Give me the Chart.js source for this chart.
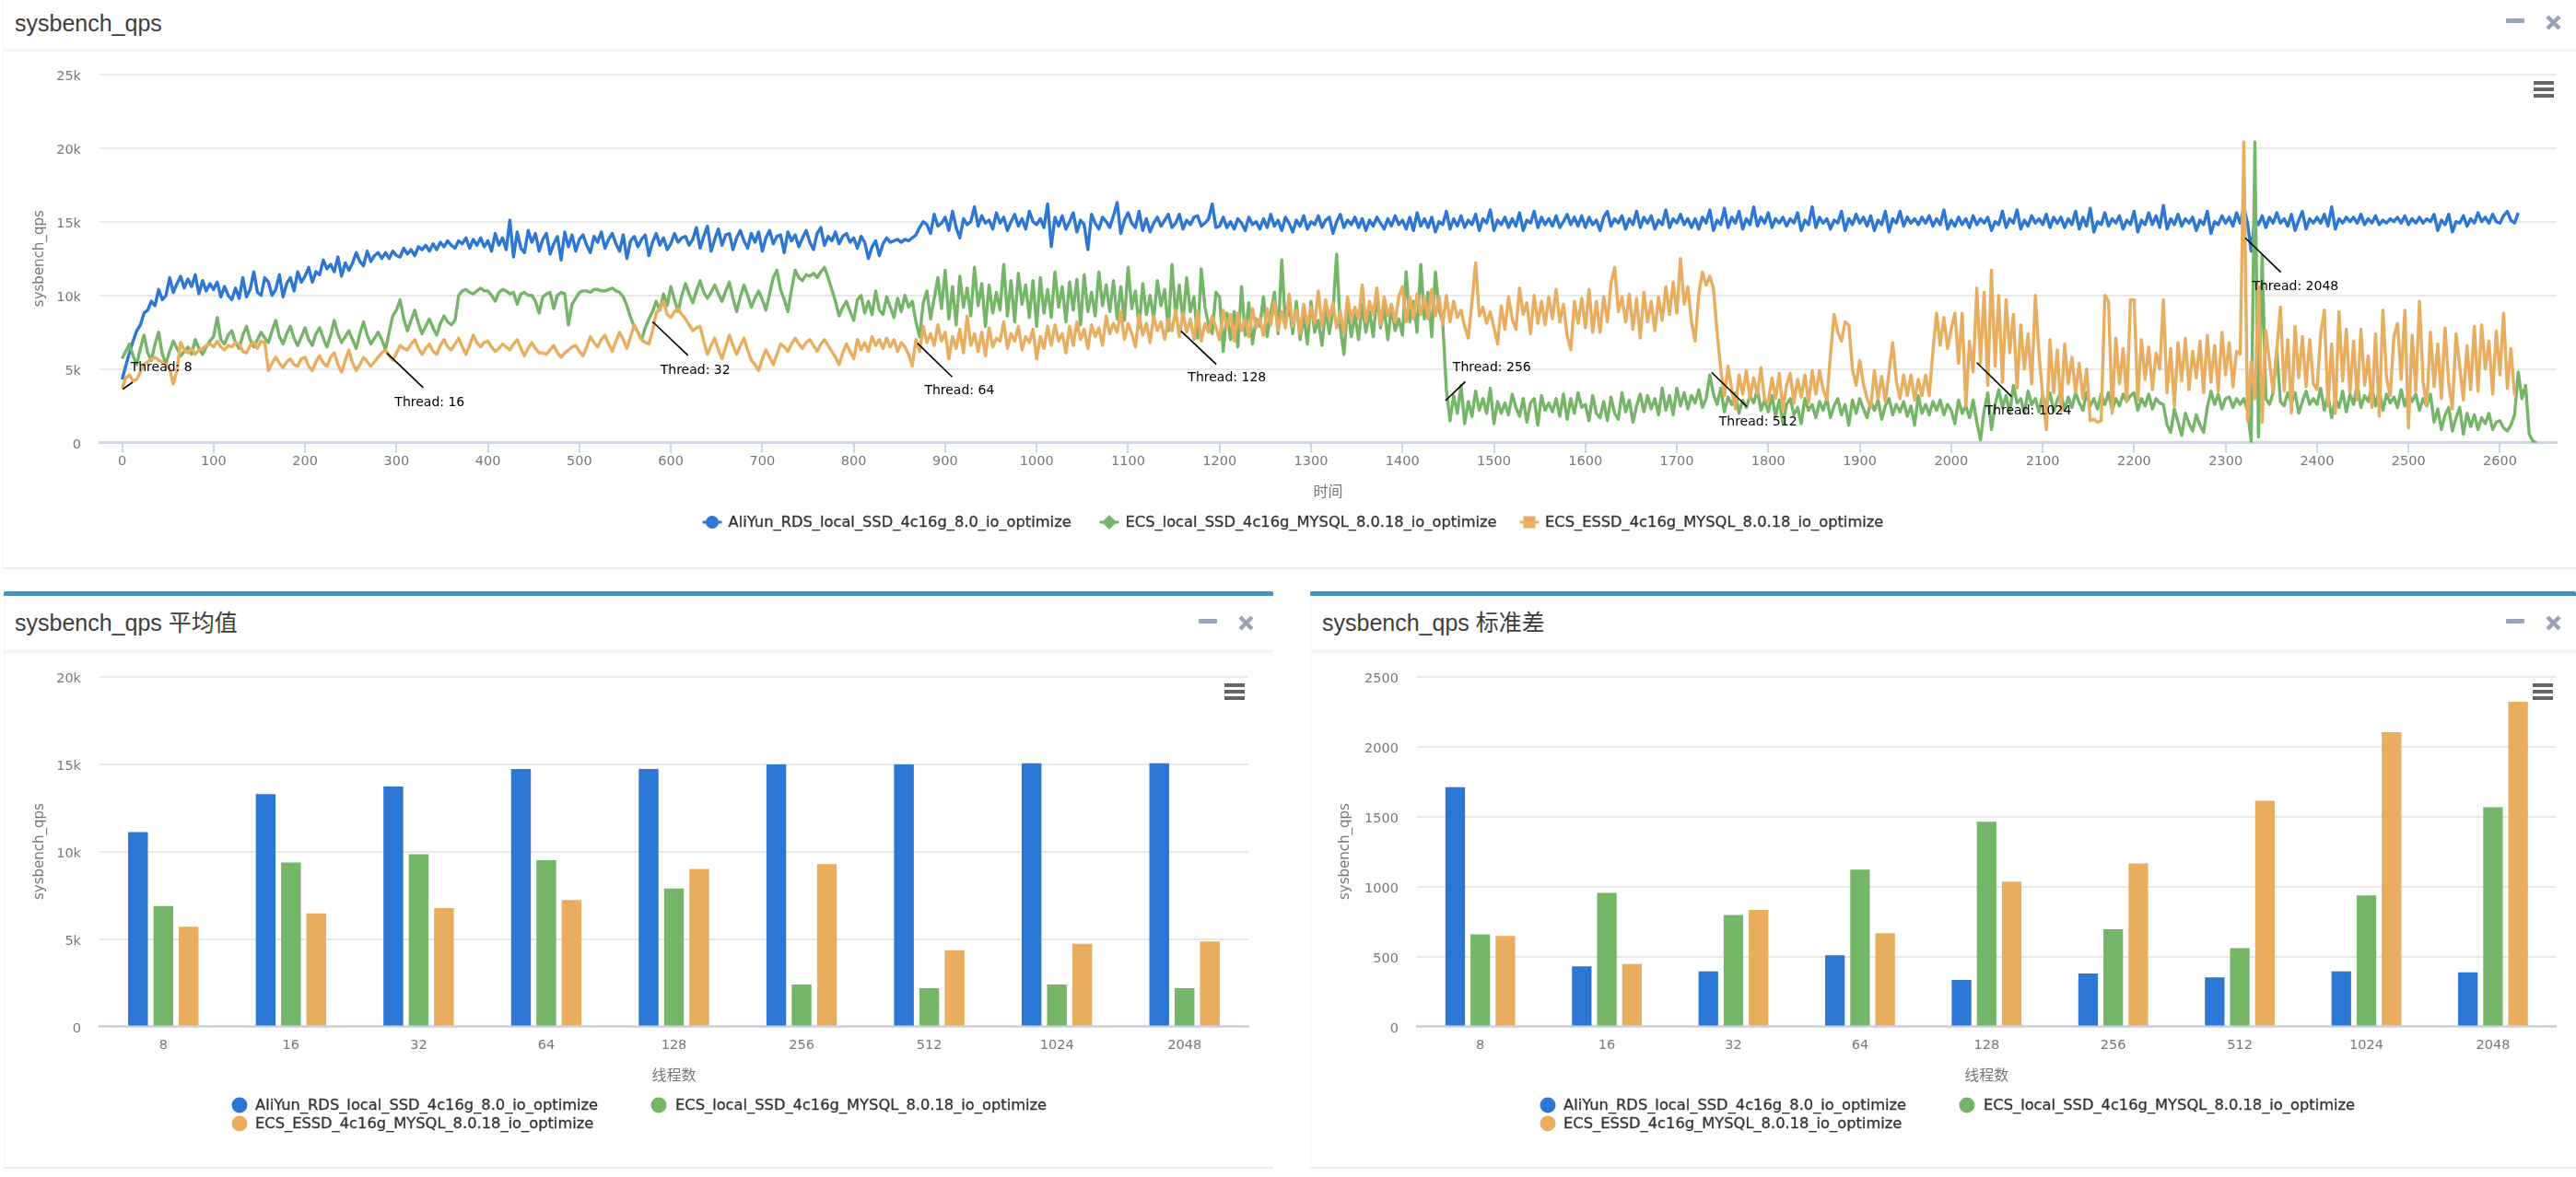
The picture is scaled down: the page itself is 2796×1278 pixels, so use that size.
<!DOCTYPE html>
<html><head><meta charset="utf-8">
<script src="https://cdn.jsdelivr.net/npm/chart.js@4"></script>
<style>
html,body{margin:0;padding:0;background:#fff;width:2796px;height:1278px;overflow:hidden}
body{position:relative;font-family:"DejaVu Sans","Noto Sans CJK SC",sans-serif}
.panel{position:absolute;background:#fff;box-sizing:border-box;border-left:1px solid #f2f2f2;border-bottom:2px solid #ececec}
.bar{position:absolute;background:#4b8fbe;height:5px;border-radius:2px 2px 0 0}
.head{position:absolute;height:3px;background:#f4f4f4}
.title{position:absolute;font:25px "Liberation Sans","Noto Sans CJK SC",sans-serif;color:#3d3d3d;line-height:30px;white-space:nowrap}
canvas{position:absolute}
.legend{position:absolute;font:16.3px "DejaVu Sans",sans-serif;color:#333;white-space:nowrap;-webkit-text-stroke:.3px #333;line-height:20px}
.legend span{position:absolute;top:0}
.legend svg{position:absolute}
.ham{position:absolute;width:22px;height:18px;background:linear-gradient(#666 0 4px,transparent 4px 7px,#666 7px 11px,transparent 11px 14px,#666 14px 18px)}
.min{position:absolute;width:20px;height:5px;background:#9aa3b8;border-radius:1px}
.close{position:absolute;width:17px;height:17px}
</style></head><body>
<div class="panel" style="left:3px;top:0;width:2793px;height:618px"></div>
<div class="head" style="left:3px;top:53px;width:2793px"></div>
<div class="title" id="t1" style="left:16px;top:10px"></div>
<canvas id="c1" width="2796" height="550" style="left:0;top:60px;width:2796px;height:550px"></canvas>

<div class="panel" style="left:4px;top:642px;width:1378px;height:627px"></div>
<div class="bar" style="left:4px;top:642px;width:1378px"></div>
<div class="head" style="left:4px;top:706px;width:1378px"></div>
<div class="title" id="t2" style="left:16px;top:661px"></div>
<canvas id="c2" width="1400" height="560" style="left:0;top:710px;width:1400px;height:560px"></canvas>

<div class="panel" style="left:1422px;top:642px;width:1374px;height:627px"></div>
<div class="bar" style="left:1422px;top:642px;width:1374px"></div>
<div class="head" style="left:1422px;top:706px;width:1374px"></div>
<div class="title" id="t3" style="left:1435px;top:661px"></div>
<canvas id="c3" width="1396" height="560" style="left:1400px;top:710px;width:1396px;height:560px"></canvas>

<div class="ham" style="left:2750px;top:88px"></div>
<div class="ham" style="left:1329px;top:742px"></div>
<div class="ham" style="left:2749px;top:742px"></div>
<div class="min" style="left:2720px;top:20px"></div>
<div class="min" style="left:1301px;top:672px"></div>
<div class="min" style="left:2720px;top:672px"></div>
<svg class="close" style="left:2763px;top:16px" viewBox="0 0 17 17"><path d="M2 2L15 15M15 2L2 15" stroke="#9aa3b8" stroke-width="4.5"/></svg>
<svg class="close" style="left:1344px;top:668px" viewBox="0 0 17 17"><path d="M2 2L15 15M15 2L2 15" stroke="#9aa3b8" stroke-width="4.5"/></svg>
<svg class="close" style="left:2763px;top:668px" viewBox="0 0 17 17"><path d="M2 2L15 15M15 2L2 15" stroke="#9aa3b8" stroke-width="4.5"/></svg>
<div id="legends"></div>

<script>
const seriesNames = ["AliYun_RDS_local_SSD_4c16g_8.0_io_optimize","ECS_local_SSD_4c16g_MYSQL_8.0.18_io_optimize","ECS_ESSD_4c16g_MYSQL_8.0.18_io_optimize"];
const threadCategories = ["8","16","32","64","128","256","512","1024","2048"];
const sampleSeconds = 4;

// QPS in thousands, one row per 200 seconds
const rdsQps = [
4.3,5.2,6.1,6.9,7.6,8.0,8.8,9.0,9.6,9.3,10.4,9.7,10.0,11.2,10.2,10.8,11.3,10.5,11.1,10.6,11.4,10.1,11.0,10.3,10.8,10.4,10.9,9.9,10.6,10.0,9.7,10.5,9.8,11.2,9.9,10.4,11.6,10.2,10.0,11.2,10.9,10.0,10.4,11.4,9.9,10.8,11.2,10.3,11.6,10.9,
11.3,11.9,10.9,11.6,11.4,12.4,11.8,12.1,11.6,12.6,11.3,12.2,11.7,12.2,12.9,12.3,12.0,13.0,12.3,12.7,12.9,12.5,12.9,12.5,13.0,12.7,12.6,13.2,12.8,13.1,12.7,13.3,13.1,13.4,13.0,13.5,13.1,13.6,13.3,13.7,13.4,13.2,13.7,13.5,13.9,13.2,13.8,13.4,13.9,13.3,
13.7,13.0,14.2,13.4,13.9,13.1,15.1,12.6,14.3,13.2,12.9,14.4,13.6,14.2,13.0,13.8,14.2,12.8,13.5,14.0,12.4,14.3,13.3,14.1,13.0,13.8,14.1,13.4,12.9,14.0,13.6,14.3,13.2,13.8,14.2,13.5,13.0,14.1,12.5,13.7,14.0,13.3,13.8,14.1,12.7,13.6,14.2,13.4,13.9,13.1,
13.5,14.2,13.6,13.9,14.0,13.4,13.8,14.6,13.2,14.0,14.7,13.0,13.8,14.5,13.4,14.1,14.2,13.1,13.9,14.4,13.7,13.2,14.2,13.6,14.3,13.0,13.9,14.4,13.5,14.0,14.1,12.9,14.3,13.7,14.1,13.3,13.9,14.4,13.6,13.1,14.2,14.6,13.4,14.0,13.7,14.3,13.5,14.0,14.2,13.6,
13.9,13.2,14.0,13.6,12.5,13.3,13.7,12.7,13.5,13.9,13.6,13.7,13.8,13.6,13.8,13.7,13.9,14.1,14.6,15.0,14.8,14.2,15.5,14.7,14.9,15.3,14.4,15.7,14.6,13.9,15.2,14.8,15.0,16.0,14.7,15.4,14.9,15.1,14.5,15.6,14.9,15.3,14.4,15.0,15.5,14.7,15.2,14.5,15.7,15.0,
14.8,15.2,14.6,16.2,13.3,15.3,14.7,15.4,14.5,15.0,15.6,14.3,15.1,14.8,13.1,15.5,14.9,14.5,15.3,15.0,14.6,15.4,16.3,14.2,15.1,15.6,14.9,14.6,15.7,14.4,15.2,14.3,14.9,15.3,14.7,15.1,15.5,14.6,14.9,15.5,14.5,15.1,14.8,15.3,15.4,14.7,14.9,15.2,16.2,14.6,
14.7,15.3,14.6,15.0,14.5,15.2,14.9,14.4,15.3,14.8,15.0,14.5,15.2,14.6,15.5,14.7,15.1,14.4,15.3,14.9,14.3,15.1,14.7,15.4,14.5,15.0,14.8,15.4,14.6,15.1,15.3,14.2,15.0,15.5,14.6,15.1,14.8,15.3,14.6,15.2,14.4,15.1,14.7,15.3,14.9,14.5,15.2,14.7,15.4,14.8,
15.1,14.5,15.3,14.4,15.6,14.7,15.2,14.6,15.3,14.3,15.0,14.8,15.7,14.5,15.2,14.7,15.4,14.6,15.1,14.8,15.5,14.4,15.2,14.9,15.8,14.4,15.1,14.8,15.3,14.6,15.2,14.7,15.6,14.4,15.1,14.9,15.7,14.6,15.3,14.8,15.2,14.7,15.4,14.6,15.0,15.5,14.8,15.3,14.7,15.4,
14.6,15.3,14.8,15.1,14.4,15.3,15.7,14.7,15.2,14.9,15.4,14.5,15.2,14.8,15.7,14.6,15.3,14.9,15.4,14.5,15.1,14.8,15.8,14.6,15.2,14.9,15.5,14.8,15.2,14.6,15.2,14.5,15.3,14.9,15.8,14.4,15.1,14.8,15.9,14.6,15.3,14.9,15.7,14.5,15.2,14.8,16.0,14.7,15.3,14.9,
15.6,14.6,15.2,14.9,15.3,14.7,15.2,14.9,15.6,14.4,15.1,14.8,16.0,14.6,15.3,14.9,15.2,14.5,15.1,14.9,15.7,14.4,15.2,14.8,15.5,14.9,15.3,14.7,15.4,14.4,15.1,14.8,15.7,14.3,15.2,14.9,15.7,14.7,15.3,14.9,15.2,14.8,15.3,14.9,15.4,14.7,15.2,14.8,15.8,14.5,
15.1,14.7,15.3,14.8,15.2,14.6,15.4,14.8,15.2,14.9,15.3,14.4,15.0,14.8,15.7,14.6,15.2,14.9,15.8,14.5,15.1,14.7,15.4,14.9,15.2,14.8,15.5,14.6,15.3,14.9,15.3,14.6,15.2,14.8,15.7,14.5,15.3,14.7,15.9,14.3,15.0,14.8,15.6,14.7,15.2,14.9,15.4,14.5,15.1,14.8,
15.7,14.3,15.1,14.8,15.6,14.8,15.4,14.6,16.1,14.5,15.2,14.8,15.5,14.7,15.2,14.9,15.3,14.4,15.1,14.8,15.7,14.2,15.0,14.8,15.4,14.9,15.3,14.7,15.6,14.9,16.0,14.9,13.0,15.2,14.8,15.4,14.6,15.3,14.9,15.6,14.9,15.2,14.7,15.5,14.4,15.1,15.7,14.5,15.2,14.9,
15.3,14.9,15.5,14.7,16.0,14.5,15.2,14.9,15.3,15.0,15.3,14.9,15.5,14.8,15.2,14.9,15.4,14.8,15.1,14.9,15.2,15.0,15.3,14.9,15.4,14.8,15.2,14.9,15.3,14.9,15.2,15.0,15.5,14.4,15.1,14.8,15.5,14.3,15.0,14.9,15.4,14.7,15.2,14.9,15.6,15.0,15.3,14.9,15.5,15.0,
14.9,15.4,15.7,15.1,14.9,15.6];
const localSsdQps = [
5.7,6.2,6.7,5.9,5.3,6.4,7.3,6.1,5.6,6.7,7.5,6.0,5.4,6.2,6.9,6.4,5.9,6.2,6.5,6.0,7.0,6.4,6.0,6.5,6.9,7.2,8.5,7.0,6.7,7.3,7.6,6.8,6.4,7.3,7.9,7.0,6.5,7.0,7.5,7.1,6.8,7.6,8.3,7.2,6.7,7.4,7.9,7.1,6.6,7.2,
7.8,7.0,6.6,7.4,7.8,7.1,6.5,7.3,8.3,7.4,6.8,7.2,7.6,7.0,6.4,7.4,8.2,7.3,6.7,7.1,7.5,7.0,6.3,7.5,8.6,9.0,9.7,8.4,7.6,8.3,9.0,8.1,7.4,7.9,8.4,7.8,7.3,8.1,8.6,8.2,8.0,8.3,10.0,10.3,10.4,10.2,10.1,10.3,10.5,10.3,
10.3,10.0,9.6,10.2,10.4,10.3,10.1,10.2,9.4,10.1,10.2,10.0,10.0,9.6,8.8,9.9,10.1,10.2,9.1,10.0,10.2,10.1,8.0,9.4,9.8,10.2,10.3,10.3,10.2,10.4,10.4,10.3,10.3,10.4,10.5,10.3,10.2,9.9,9.3,8.5,7.9,7.5,7.0,7.8,8.4,8.9,9.6,9.0,10.1,9.3,
10.6,9.7,8.9,10.0,10.8,10.1,9.5,10.3,11.0,10.2,9.8,10.2,10.7,10.1,9.6,10.3,10.9,9.8,8.9,9.9,10.7,10.0,9.2,9.8,10.3,9.7,9.0,10.1,11.2,11.7,10.4,9.7,8.9,10.4,11.7,11.2,11.0,11.4,11.3,11.5,11.2,11.6,11.9,11.2,10.4,9.6,8.6,9.2,9.6,8.9,
8.3,9.7,10.0,8.8,9.6,8.7,10.3,9.0,8.7,9.9,9.2,8.5,9.8,8.9,10.0,9.2,9.6,8.2,7.2,9.5,10.3,8.4,9.8,11.2,9.1,11.7,8.4,10.6,8.0,11.3,9.2,10.5,8.6,11.9,9.3,10.8,7.9,10.7,8.8,10.2,9.0,12.1,8.6,11.0,8.2,11.5,9.4,10.7,8.5,11.0,
7.9,11.2,8.8,10.4,8.5,11.6,9.2,10.6,8.2,10.9,9.0,11.1,8.0,11.4,8.9,10.2,8.6,11.6,9.3,10.7,8.9,11.0,8.4,10.6,8.3,11.9,9.1,10.3,7.8,10.8,8.7,10.0,8.4,11.0,9.3,10.4,7.6,12.1,8.6,10.7,8.2,11.2,8.9,9.9,7.1,11.8,9.2,8.0,7.4,10.2,
9.9,6.2,8.8,7.0,8.9,6.5,10.6,7.3,9.5,6.7,8.4,7.9,9.9,7.2,8.8,10.2,7.4,12.4,8.1,9.3,7.4,9.6,7.0,8.6,6.7,9.6,7.5,8.3,6.6,9.1,7.4,8.9,12.8,7.8,6.0,9.3,7.2,8.7,7.0,9.4,7.5,8.9,7.2,10.0,7.8,9.1,7.0,9.2,7.6,8.4,
7.3,11.6,8.2,9.6,7.5,12.1,8.4,10.2,7.2,11.6,9.0,8.2,3.6,1.5,3.2,2.0,3.9,1.3,2.8,1.8,3.5,2.2,3.0,2.0,3.7,1.3,2.8,2.0,2.7,1.9,3.3,2.4,1.8,3.0,1.4,2.7,3.0,1.2,3.2,2.2,2.7,2.1,3.0,1.8,3.3,1.6,3.0,2.0,3.4,2.4,
2.6,1.5,3.2,2.0,1.7,2.8,1.5,3.1,2.0,1.6,3.4,2.1,2.9,1.4,2.5,3.3,2.1,3.2,2.3,3.0,1.9,3.7,2.2,3.2,1.9,3.7,2.5,3.4,2.3,3.2,2.7,3.6,2.4,3.0,4.6,3.3,2.6,3.7,2.1,3.1,2.6,3.4,2.0,2.9,2.4,3.2,2.7,3.6,2.2,2.9,
2.1,3.2,1.8,2.9,1.3,2.6,3.0,1.9,2.4,1.3,3.0,2.2,2.6,1.7,2.8,2.2,3.0,1.7,2.5,3.0,1.9,2.6,1.2,2.9,2.0,3.0,2.3,1.7,2.8,2.2,2.9,1.6,2.5,3.0,1.9,2.6,2.1,2.8,1.8,2.5,1.2,3.2,2.0,2.6,1.9,2.8,2.2,2.9,1.9,2.6,
2.2,1.3,2.9,2.0,2.5,1.7,2.9,1.4,0.2,2.2,3.4,0.9,2.6,3.6,2.4,3.2,2.0,3.9,2.7,3.0,2.0,3.5,2.6,3.0,2.1,3.2,2.5,3.4,2.1,2.9,3.4,2.2,3.1,2.4,3.4,2.7,2.2,3.4,2.5,3.0,2.3,3.3,2.6,3.4,2.2,3.0,2.5,3.3,2.8,3.2,
3.4,2.2,3.0,2.5,3.3,2.3,3.0,2.7,2.6,1.2,0.7,2.3,1.4,0.5,2.0,1.3,0.8,1.9,1.2,0.7,2.4,3.5,2.6,3.3,2.3,3.0,3.1,2.4,3.0,2.6,3.0,2.2,0.1,20.4,0.4,12.7,3.0,2.6,3.4,6.3,2.8,2.5,3.4,2.7,3.4,2.0,2.8,3.5,2.6,3.0,
2.6,3.7,2.2,3.2,1.7,3.0,2.4,3.5,2.1,3.3,2.6,4.0,2.4,3.2,2.8,3.8,2.5,3.6,2.2,3.3,2.7,3.1,2.4,3.6,2.5,3.4,2.8,3.3,2.2,3.0,2.5,3.3,1.4,2.3,0.9,1.9,2.4,0.8,1.7,2.4,0.6,2.0,1.1,1.9,0.9,1.7,1.3,2.0,0.9,1.4,
1.5,1.0,0.8,1.2,1.9,4.8,3.0,3.9,0.6,0.1,0];
const essdQps = [
3.7,4.4,4.6,4.2,4.3,4.8,5.3,5.5,5.7,5.8,5.6,5.5,5.3,5.0,4.0,4.9,6.8,6.3,6.1,6.4,6.0,6.3,6.4,6.6,6.7,6.5,6.9,6.5,6.3,6.6,6.5,6.8,6.7,6.2,6.1,6.6,6.8,6.4,6.9,6.8,4.9,5.4,5.8,5.4,5.1,5.5,5.7,5.3,5.2,5.7,
5.8,5.2,4.9,5.5,5.9,5.4,5.2,5.8,6.1,5.3,4.8,5.6,6.3,5.4,4.9,5.3,5.8,5.5,5.2,5.5,5.8,6.1,6.3,5.9,5.6,6.1,6.6,6.4,6.3,6.7,7.0,6.4,6.0,6.4,6.7,6.2,6.0,6.6,7.0,6.5,6.3,6.7,7.1,6.5,6.0,6.6,7.3,6.8,6.5,6.8,
6.9,6.5,6.2,6.4,6.7,6.5,6.3,6.7,7.0,6.4,5.9,6.4,6.8,6.4,6.1,6.1,6.0,6.3,6.6,6.1,5.8,6.1,6.3,6.5,6.6,6.2,5.9,6.5,7.2,6.8,6.5,7.0,7.3,6.7,6.2,6.9,7.5,7.0,6.4,7.2,8.0,7.5,7.0,6.8,6.7,7.6,8.8,9.1,9.6,8.7,
8.5,8.9,9.1,8.7,8.4,8.0,7.6,7.8,7.9,6.9,6.0,6.6,7.1,6.3,5.7,6.5,7.3,6.6,6.0,6.6,7.1,6.3,5.6,5.3,4.9,5.7,6.3,5.8,5.3,6.0,6.7,6.5,6.2,6.7,7.1,6.7,6.4,6.8,7.0,6.6,6.2,6.7,7.0,6.6,6.2,5.8,5.3,6.1,6.7,6.2,
5.7,7.0,6.3,6.8,6.2,7.2,6.6,7.0,6.4,7.1,6.5,7.0,6.2,6.8,6.5,6.0,5.2,7.0,6.2,7.9,6.8,7.4,6.6,8.0,6.9,7.5,5.7,7.2,6.4,7.7,6.1,8.6,6.6,7.4,6.2,7.5,5.9,7.8,6.5,7.1,6.9,8.2,6.4,7.4,6.9,7.9,6.3,7.2,6.8,7.7,
5.7,7.2,6.4,7.9,6.6,8.0,6.9,7.4,6.1,7.9,6.6,8.2,7.0,7.7,6.4,8.0,7.2,7.8,6.6,8.6,7.4,8.1,7.5,8.9,7.0,8.1,7.4,6.5,8.7,7.3,8.1,6.8,8.6,7.6,8.2,7.0,8.4,7.6,9.0,7.2,8.8,7.5,8.4,7.0,8.9,6.9,8.1,7.5,8.6,7.8,
7.0,9.0,7.8,8.7,6.9,8.8,7.6,8.4,7.2,9.1,7.8,8.4,7.3,9.1,8.0,9.6,7.6,8.9,7.8,10.1,7.9,9.0,7.4,9.4,8.0,9.2,8.1,10.3,7.9,9.7,8.4,9.5,7.8,8.9,7.4,9.9,8.3,9.2,8.4,10.7,8.2,9.6,8.7,10.5,8.0,9.9,8.6,9.4,8.2,9.9,
10.6,8.2,9.9,8.4,10.1,8.7,9.9,8.4,10.4,8.6,9.9,8.0,10.0,8.2,9.6,8.5,9.0,7.9,7.1,9.6,12.2,8.6,9.2,8.1,8.9,7.8,6.7,9.3,7.7,9.9,8.4,7.7,10.5,8.7,9.5,7.4,10.0,8.1,9.6,8.0,9.9,8.4,10.4,8.2,9.4,7.3,6.3,9.6,8.1,9.8,
7.8,10.4,7.5,9.6,7.5,9.9,8.2,10.8,11.9,8.9,9.9,8.2,10.1,7.7,9.8,7.1,10.2,8.2,9.6,7.6,9.9,8.3,10.6,8.7,10.9,8.8,12.5,9.4,10.6,8.2,6.9,10.1,11.6,10.7,11.3,10.5,7.5,5.0,3.2,5.2,3.6,2.3,4.6,3.3,4.9,3.0,4.4,3.3,5.1,2.9,
2.8,4.4,3.0,4.7,2.2,3.9,4.7,2.7,4.3,3.1,4.6,2.7,4.9,3.3,4.9,3.6,2.9,6.0,8.7,7.5,6.9,8.2,8.0,5.0,3.9,5.6,4.0,3.0,2.4,4.9,3.0,4.5,2.8,4.8,6.8,4.2,3.0,4.6,3.2,4.6,2.9,4.3,3.2,4.6,3.2,6.2,8.8,6.6,8.5,6.4,
7.7,8.8,5.4,8.8,2.5,6.9,4.8,10.5,5.4,10.2,3.9,11.7,5.2,10.0,4.1,9.7,6.1,8.7,3.7,8.0,5.0,7.4,4.0,10.0,6.0,3.2,0.9,7.0,3.4,6.3,2.2,6.7,4.0,5.8,3.4,5.4,3.0,5.0,1.5,1.6,1.4,1.5,10.0,9.6,2.0,7.1,4.0,6.4,2.8,9.7,
9.7,2.9,7.0,4.3,6.5,3.6,6.1,5.0,9.7,3.4,6.4,2.5,6.8,4.2,7.1,3.6,6.2,4.4,6.9,3.4,7.3,4.1,6.6,3.5,7.5,4.6,6.8,3.8,6.2,6.0,20.4,1.5,5.5,3.0,10.6,1.4,7.6,5.5,3.4,6.3,9.2,3.5,7.0,2.0,7.9,4.4,7.2,3.8,7.0,4.0,
3.6,7.4,9.0,2.5,6.7,2.0,8.9,4.2,7.7,3.4,6.9,2.9,7.7,3.9,5.9,2.4,7.4,1.8,9.0,4.4,3.2,7.2,8.1,4.3,9.0,1.0,7.3,3.5,9.6,4.1,2.5,7.5,3.8,6.7,3.0,7.8,4.0,2.3,7.4,5.2,2.9,6.6,3.6,7.9,3.5,8.0,5.0,6.9,3.3,7.6,
4.6,8.8,3.7,6.4,3.2];

const meanRds = [11.11,13.28,13.71,14.72,14.72,14.98,14.98,15.04,15.04];
const meanLocal = [6.88,9.37,9.85,9.5,7.88,2.4,2.18,2.4,2.18];
const meanEssd = [5.7,6.46,6.77,7.23,9.0,9.28,4.35,4.72,4.85];
const stdRds = [1710,430,394,509,332,378,351,394,386];
const stdLocal = [658,955,797,1121,1463,694,560,936,1567];
const stdEssd = [647,446,832,666,1034,1164,1613,2103,2320];

// Thread markers, all in data units (seconds, thousand QPS)
const threadNames = ["Thread: 8","Thread: 16","Thread: 32","Thread: 64","Thread: 128","Thread: 256","Thread: 512","Thread: 1024","Thread: 2048"];
const leaderStartT = [0.7,289.6,580,869.6,1157.8,1447,1738,2028,2321.5];
const leaderStartQ = [3.63,6.09,8.22,6.76,7.59,2.86,4.78,5.44,13.9];
const leaderEndT = [11.5,329.2,618.7,907.6,1196.4,1468.7,1776.8,2066,2360.4];
const leaderEndQ = [4.11,3.74,5.93,4.47,5.32,4.15,2.44,3.13,11.57];
const labelT = [9.2,298,588.5,877.3,1165.4,1455,1746,2037,2329];
const labelQ = [5.09,2.74,4.93,3.5,4.38,5.11,1.43,2.18,10.61];

const BLUE="#2c76d4",GREEN="#75b568",ORANGE="#e8ad5e";
const colors=[BLUE,GREEN,ORANGE];
const TICK="#777", GRID="#e8e8e8", AXIS="#ccd6eb";
const tickFont={family:'"DejaVu Sans"',size:14.5};
const titleFont={family:'"DejaVu Sans","Noto Sans CJK SC"',size:15};
const xTitleFont={family:'"Noto Sans CJK SC"',size:16};
Chart.defaults.animation=false;
Chart.defaults.devicePixelRatio=1;

document.getElementById('t1').textContent="sysbench_qps";
document.getElementById('t2').textContent="sysbench_qps 平均值";
document.getElementById('t3').textContent="sysbench_qps 标准差";

const noPad=s=>{s.paddingTop=0;s.paddingBottom=0;s.paddingLeft=0;s.paddingRight=0;};
const toPoints=a=>a.map((v,i)=>({x:i*sampleSeconds,y:v}));
const threadPlugin={id:'threads',afterDatasetsDraw(c){
  const {ctx,scales:{x,y}}=c;
  ctx.save();
  ctx.strokeStyle="#000";ctx.lineWidth=1.6;
  ctx.font='14px "DejaVu Sans"';ctx.fillStyle="#000";ctx.textAlign="left";ctx.textBaseline="middle";
  threadNames.forEach((n,i)=>{
    ctx.beginPath();
    ctx.moveTo(x.getPixelForValue(leaderStartT[i]),y.getPixelForValue(leaderStartQ[i]));
    ctx.lineTo(x.getPixelForValue(leaderEndT[i]),y.getPixelForValue(leaderEndQ[i]));
    ctx.stroke();
    ctx.fillText(n,x.getPixelForValue(labelT[i]),y.getPixelForValue(labelQ[i]));
  });
  ctx.restore();
}};

new Chart(document.getElementById('c1'),{
  type:'line',
  data:{datasets:[rdsQps,localSsdQps,essdQps].map((a,i)=>({label:seriesNames[i],data:toPoints(a),borderColor:colors[i],backgroundColor:colors[i],borderWidth:3.4,pointRadius:0,tension:0,order:3-i,borderJoinStyle:'round'}))},
  plugins:[threadPlugin],
  options:{responsive:false,
    layout:{padding:{top:20.6,right:21,left:0,bottom:0}},
    plugins:{legend:{display:false},tooltip:{enabled:false}},
    scales:{
      x:{type:'linear',min:-24.7,max:2662,
        afterFit:s=>{s.height=129.2;noPad(s)},
        border:{color:AXIS,width:3},
        grid:{drawOnChartArea:false,drawTicks:true,tickLength:11,tickColor:AXIS,tickWidth:2,lineWidth:2,color:AXIS},
        ticks:{stepSize:100,includeBounds:false,autoSkip:false,maxRotation:0,color:TICK,font:tickFont,padding:1,callback:v=>String(v)},
        title:{display:true,text:"时间",color:TICK,font:xTitleFont,padding:{top:0,bottom:67}}},
      y:{min:0,max:25,
        afterFit:s=>{s.width=108;noPad(s)},
        border:{display:false},
        grid:{color:GRID,lineWidth:2,drawTicks:false},
        ticks:{stepSize:5,color:TICK,font:tickFont,padding:20,labelOffset:2.5,callback:v=>v?v+'k':'0'},
        title:{display:true,text:"sysbench_qps",color:TICK,font:titleFont,padding:{top:34,bottom:0}}}
    }}
});

function barChart(id,values,yMax,step,fmt,yW,titlePad,padR){
  new Chart(document.getElementById(id),{
    type:'bar',
    data:{labels:threadCategories,datasets:values.map((a,i)=>({label:seriesNames[i],data:a,backgroundColor:colors[i],borderWidth:0,categoryPercentage:0.595,barPercentage:0.78}))},
    options:{responsive:false,
      layout:{padding:{top:24.6,right:padR,left:0,bottom:0}},
      plugins:{legend:{display:false},tooltip:{enabled:false}},
      scales:{
        x:{afterFit:s=>{s.height=155.5;noPad(s)},
          border:{color:AXIS,width:3},
          grid:{display:false,drawTicks:false},
          ticks:{color:TICK,font:tickFont,padding:12,autoSkip:false,maxRotation:0},
          title:{display:true,text:"线程数",color:TICK,font:xTitleFont,padding:{top:0,bottom:93}}},
        y:{min:0,max:yMax,
          afterFit:s=>{s.width=yW;noPad(s)},
          border:{display:false},
          grid:{color:GRID,lineWidth:2,drawTicks:false},
          ticks:{stepSize:step,color:TICK,font:tickFont,padding:20,labelOffset:2.5,callback:fmt},
          title:{display:true,text:"sysbench_qps",color:TICK,font:titleFont,padding:{top:titlePad,bottom:0}}}
      }}
  });
}
barChart('c2',[meanRds,meanLocal,meanEssd],20,5,v=>v?v+'k':'0',108,34,45);
barChart('c3',[stdRds,stdLocal,stdEssd],2500,500,v=>String(v),138,51,21.4);

// Legends
const L=document.getElementById('legends');
function legendItem(name,mx,y,tx,color,shape){
  const d=document.createElement('div');d.className='legend';d.style.left='0';d.style.top=(y-10)+'px';
  let m='';
  if(shape==='dot') m=`<circle cx="12" cy="12" r="8.5" fill="${color}"/>`;
  else{
    m=`<rect x="1.5" y="10.5" width="21" height="3" fill="${color}"/>`;
    if(shape==='circle') m+=`<circle cx="12" cy="12" r="7" fill="${color}"/>`;
    if(shape==='diamond') m+=`<path d="M12 4L20 12L12 20L4 12Z" fill="${color}"/>`;
    if(shape==='square') m+=`<rect x="5.5" y="5.5" width="13" height="13" fill="${color}"/>`;
  }
  d.innerHTML=`<svg width="24" height="24" style="left:${mx-12}px;top:-2px">${m}</svg><span style="left:${tx}px">${name}</span>`;
  L.appendChild(d);
}
legendItem(seriesNames[0],773,567,790.6,BLUE,'circle');
legendItem(seriesNames[1],1203.5,567,1221.5,GREEN,'diamond');
legendItem(seriesNames[2],1659.5,567,1677,ORANGE,'square');
legendItem(seriesNames[0],260,1200,277,BLUE,'dot');
legendItem(seriesNames[1],715,1200,733,GREEN,'dot');
legendItem(seriesNames[2],260,1220,277,ORANGE,'dot');
legendItem(seriesNames[0],1679.6,1200,1697,BLUE,'dot');
legendItem(seriesNames[1],2135.4,1200,2153,GREEN,'dot');
legendItem(seriesNames[2],1679.6,1220,1697,ORANGE,'dot');
</script>
</body></html>
